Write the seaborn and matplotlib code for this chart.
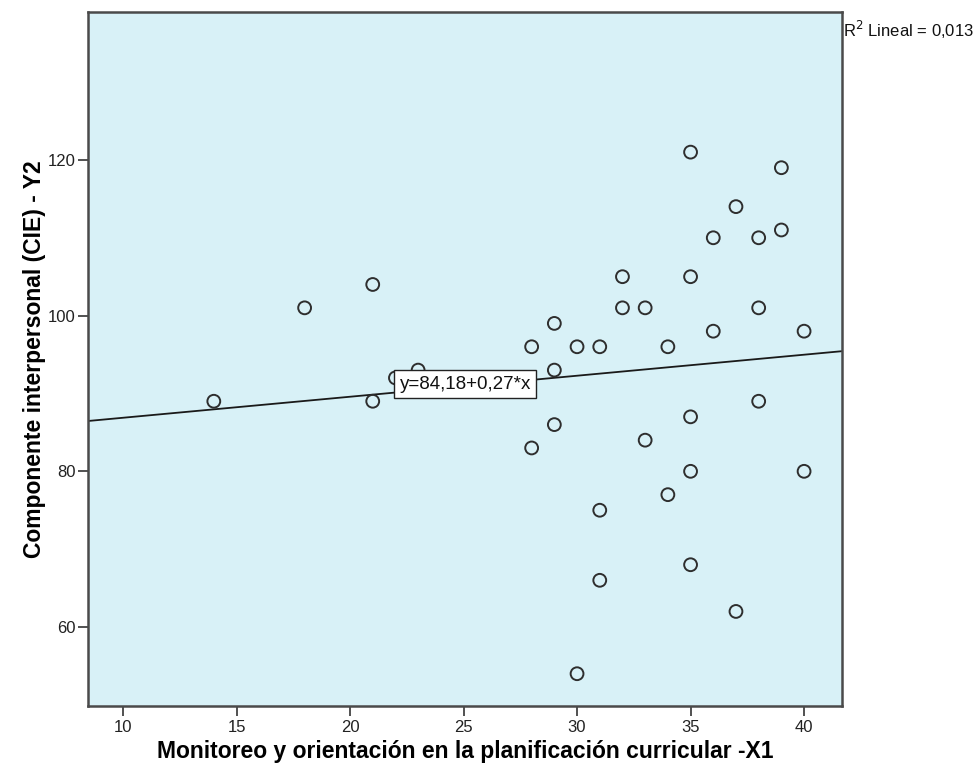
import numpy as np
import pandas as pd
import matplotlib
matplotlib.use("Agg")
import matplotlib.pyplot as plt
import seaborn as sns

# Monitoreo (X1) vs. componente interpersonal (Y2)
x1 = [14, 18, 21, 21, 22, 23, 28, 28, 29, 29, 29, 30, 30, 31, 31, 31,
      32, 32, 33, 33, 34, 34, 35, 35, 35, 35, 35, 36, 36, 37, 37,
      38, 38, 38, 39, 39, 40, 40]
y2 = [89, 101, 104, 89, 92, 93, 96, 83, 99, 93, 86, 96, 54, 96, 75, 66,
      105, 101, 101, 84, 96, 77, 121, 105, 87, 80, 68, 110, 98, 114, 62,
      110, 101, 89, 119, 111, 98, 80]

# Fitted linear model
intercept = 84.18
slope = 0.27
r2 = 0.013

x_ticks = [10, 15, 20, 25, 30, 35, 40]
y_ticks = [60, 80, 100, 120]
x_label = "Monitoreo y orientación en la planificación curricular -X1"
y_label = "Componente interpersonal (CIE) - Y2"

plt.rcParams["font.family"] = ["Liberation Sans", "DejaVu Sans"]

fig = plt.figure(figsize=(9.76, 7.75), dpi=100)
ax = fig.add_axes([0.0902, 0.089, 0.7725, 0.8955])
ax.set_facecolor("#D8F1F7")

xlim = (8.46, 41.67)
ylim = (49.85, 139.0)

df = pd.DataFrame({"x": x1, "y": y2})
line_x = np.array(xlim)
line_df = pd.DataFrame({"x": line_x, "y": intercept + slope * line_x})

sns.lineplot(data=line_df, x="x", y="y", ax=ax, color="#1a1a1a", linewidth=1.3,
             zorder=2)
sns.scatterplot(data=df, x="x", y="y", ax=ax, s=85, facecolor="none",
                edgecolor="#2e2e2e", linewidth=1.4, zorder=3)

ax.set_xlim(*xlim)
ax.set_ylim(*ylim)
ax.set_xticks(x_ticks)
ax.set_yticks(y_ticks)
ax.tick_params(axis="both", direction="out", length=7, width=1.2,
               color="#333333", labelsize=12, labelcolor="#222222")
ax.tick_params(axis="x", pad=3)
ax.tick_params(axis="y", pad=2)
for sp in ax.spines.values():
    sp.set_color("#4a4a4a")
    sp.set_linewidth(1.8)

ax.set_xlabel(x_label, fontsize=16.5, fontweight="bold", labelpad=4)
ax.set_ylabel(y_label, fontsize=16.5, fontweight="bold", labelpad=1)

# Equation label on the fit line
ax.text(25.07, 91.2, f"y={intercept:.2f}+{slope:.2f}*x".replace(".", ","),
        ha="center", va="center", fontsize=13.5, color="#111111", zorder=4,
        bbox=dict(boxstyle="square,pad=0.28", facecolor="white",
                  edgecolor="#222222", linewidth=1.0))

# R squared annotation outside the plot area
fig.text(0.8637, 0.961, f"R$^2$ Lineal = {r2:.3f}".replace(".", ","),
         ha="left", va="center", fontsize=12, color="#111111")

fig.savefig("out.png", dpi=100)
